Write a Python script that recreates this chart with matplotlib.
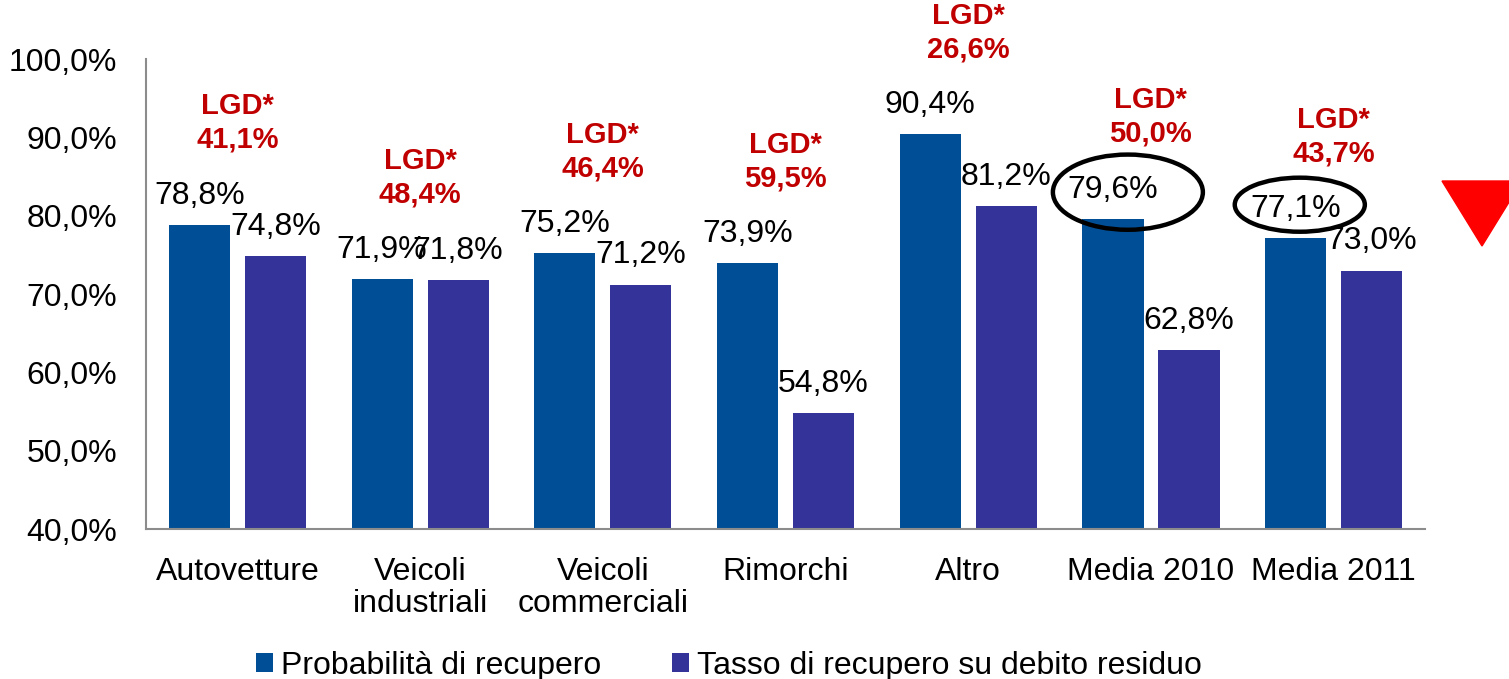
import matplotlib.pyplot as plt
import numpy as np
from matplotlib.patches import Ellipse, Polygon
from matplotlib.ticker import FuncFormatter

plt.rcParams['font.family'] = ['Liberation Sans', 'DejaVu Sans']

categories = ['Autovetture', 'Veicoli\nindustriali', 'Veicoli\ncommerciali', 'Rimorchi',
              'Altro', 'Media 2010', 'Media 2011']
prob_recupero = [78.8, 71.9, 75.2, 73.9, 90.4, 79.6, 77.1]
tasso_recupero = [74.8, 71.8, 71.2, 54.8, 81.2, 62.8, 73.0]
lgd = [41.1, 48.4, 46.4, 59.5, 26.6, 50.0, 43.7]
series_names = ['Probabilità di recupero', 'Tasso di recupero su debito residuo']

BLUE = '#004F96'
PURPLE = '#333399'
RED = '#C00000'
FS = 23


def pct(v):
    return f'{v:.1f}%'.replace('.', ',')


fig = plt.figure(figsize=(15.09, 6.79), dpi=100)
ax = fig.add_axes([0.0968, 0.2209, 0.8475, 0.6922])

x = np.arange(len(categories))
w = 0.335
off = 0.208
b1 = ax.bar(x - off, prob_recupero, w, color=BLUE, label=series_names[0])
b2 = ax.bar(x + off, tasso_recupero, w, color=PURPLE, label=series_names[1])

for bars, vals in [(b1, prob_recupero), (b2, tasso_recupero)]:
    for r, v in zip(bars, vals):
        ax.annotate(pct(v), (r.get_x() + r.get_width() / 2, v), xytext=(0, 21),
                    textcoords='offset points', ha='center', va='center', fontsize=FS)

# LGD labels above each group
for i in range(len(categories)):
    top = max(prob_recupero[i], tasso_recupero[i])
    ax.text(x[i], top + 13.0, 'LGD*\n' + pct(lgd[i]), ha='center', va='center',
            color=RED, fontsize=21, fontweight='bold', linespacing=1.25, clip_on=False)

ax.set_ylim(40, 100)
ax.set_xlim(-0.5, len(categories) - 0.5)
ax.set_yticks(np.arange(40, 101, 10))
ax.yaxis.set_major_formatter(FuncFormatter(lambda v, p: pct(v)))
ax.set_xticks(x)
ax.set_xticklabels(categories, linespacing=1.1)
ax.tick_params(axis='y', length=0, pad=21, labelsize=FS)
ax.tick_params(axis='x', length=0, pad=20, labelsize=FS)
for s in ['top', 'right']:
    ax.spines[s].set_visible(False)
for s in ['left', 'bottom']:
    ax.spines[s].set_color('#8C8C8C')
    ax.spines[s].set_linewidth(1.5)

# ellipses highlighting the averages
ax.add_patch(Ellipse((4.874, 83.0), 0.821, 9.6, fill=False, lw=3.2, ec='black', clip_on=False))
ax.add_patch(Ellipse((5.815, 81.4), 0.712, 6.9, fill=False, lw=3.2, ec='black', clip_on=False))

# red down triangle on the right
W, H = 1509, 679
tri = [(1442 / W, 1 - 181 / H), (1522 / W, 1 - 181 / H), (1482 / W, 1 - 246 / H)]
fig.patches.append(Polygon(tri, closed=True, transform=fig.transFigure, color='#FF0000'))

fig.legend(loc='lower center', bbox_to_anchor=(0.483, -0.045), ncol=2, frameon=False,
           fontsize=FS, handlelength=0.55, handleheight=0.55, handletextpad=0.25,
           columnspacing=2.2)

fig.savefig('out.png', dpi=100)
